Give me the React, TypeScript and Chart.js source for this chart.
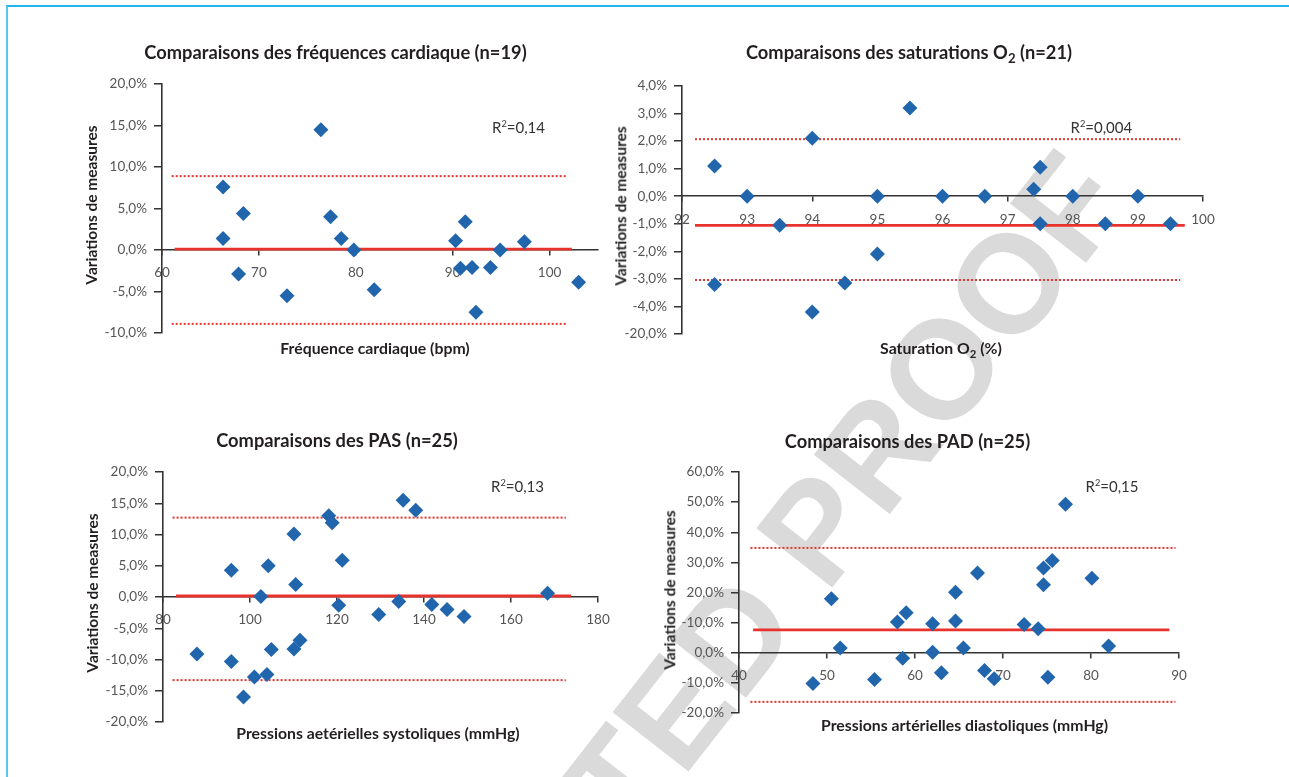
import React, { useEffect, useRef } from "react";
import { Chart, registerables } from "chart.js";

Chart.register(...registerables);

// ---------------- Data ----------------
// Fréquences cardiaques (n=19)
const hrX = [66.3, 66.3, 68.4, 67.9, 72.9, 76.4, 77.4, 78.5, 79.8, 81.9, 90.3, 90.8, 91.3, 92.0, 92.4, 93.9, 94.9, 97.4, 103.0];
const hrY = [7.6, 1.4, 4.4, -2.9, -5.5, 14.5, 4.0, 1.4, 0.0, -4.8, 1.1, -2.2, 3.4, -2.1, -7.5, -2.1, 0.0, 1.0, -3.9];
const hrMean = 0.1;
const hrUpper = 8.9;
const hrLower = -8.9;
const hrMeanX = [61.3, 102.3];
const hrLimitX = [61.0, 101.7];
const hrXTicks = [60, 70, 80, 90, 100];
const hrYTicks = [-10, -5, 0, 5, 10, 15, 20];
const hrYLabels = ["-10,0%", "-5,0%", "0,0%", "5,0%", "10,0%", "15,0%", "20,0%"];

// Saturations O2 (n=21)
const satX = [92.5, 92.5, 93.0, 93.5, 94.0, 94.0, 94.5, 95.0, 95.0, 95.5, 96.0, 96.65, 97.4, 97.5, 97.5, 98.0, 98.5, 99.0, 99.5];
const satY = [1.1, -3.2, 0.0, -1.05, 2.1, -4.2, -3.15, 0.0, -2.1, 3.2, 0.0, 0.0, 0.25, 1.05, -1.0, 0.0, -1.0, 0.0, -1.0];
const satMean = -1.06;
const satUpper = 2.07;
const satLower = -3.04;
const satMeanX = [92.2, 99.72];
const satLimitX = [92.2, 99.65];
const satXTicks = [92, 93, 94, 95, 96, 97, 98, 99, 100];
const satYTicks = [-5, -4, -3, -2, -1, 0, 1, 2, 3, 4];
const satYLabels = ["-20,0%", "-4,0%", "-3,0%", "-2,0%", "-1,0%", "0,0%", "1,0%", "2,0%", "3,0%", "4,0%"];

// PAS (n=25)
const pasX = [87.8, 95.7, 95.7, 98.5, 101.0, 102.5, 103.9, 104.2, 104.9, 110.1, 110.1, 110.5, 111.5, 118.1, 118.9, 120.4, 121.2, 129.6, 134.2, 135.2, 138.1, 141.8, 145.3, 149.2, 168.4];
const pasY = [-9.1, 4.3, -10.3, -16.0, -12.8, 0.1, -12.4, 5.0, -8.4, 10.1, -8.3, 2.0, -6.9, 13.0, 11.9, -1.3, 5.9, -2.8, -0.7, 15.5, 13.9, -1.2, -2.0, -3.1, 0.6];
const pasMean = 0.16;
const pasUpper = 12.7;
const pasLower = -13.3;
const pasMeanX = [83.0, 173.8];
const pasLimitX = [82.2, 172.6];
const pasXTicks = [80, 100, 120, 140, 160, 180];
const pasYTicks = [-20, -15, -10, -5, 0, 5, 10, 15, 20];
const pasYLabels = ["-20,0%", "-15,0%", "-10,0%", "-5,0%", "0,0%", "5,0%", "10,0%", "15,0%", "20,0%"];

// PAD (n=25)
const padX = [48.4, 50.5, 51.5, 55.4, 58.0, 58.6, 59.0, 62.0, 62.0, 63.0, 64.6, 64.6, 65.5, 67.1, 67.9, 69.0, 72.4, 74.0, 74.6, 74.6, 75.1, 75.6, 77.1, 80.1, 82.0];
const padY = [-10.2, 17.9, 1.6, -8.9, 10.2, -1.8, 13.3, 9.6, 0.2, -6.6, 20.1, 10.5, 1.6, 26.5, -5.9, -8.6, 9.4, 8.0, 28.1, 22.6, -8.1, 30.6, 49.3, 24.7, 2.2];
const padMean = 7.6;
const padUpper = 34.8;
const padLower = -16.3;
const padMeanX = [41.6, 88.9];
const padLimitX = [41.3, 89.6];
const padXTicks = [40, 50, 60, 70, 80, 90];
const padYTicks = [-20, -10, 0, 10, 20, 30, 40, 50, 60];
const padYLabels = ["-20,0%", "-10,0%", "0,0%", "-10,0%", "20,0%", "30,0%", "40,0%", "50,0%", "60,0%"];

// ---------------- Styles ----------------
const BLUE = "#2166ad";
const RED = "#e8322c";
const AXIS = "#333333";
const TICK_COLOR = "#555555";
const FONT = "Lato, 'Open Sans', sans-serif";
const YW = 75; // fixed y-axis width
const PAD_T = 24;
const PAD_B = 24;
const PAD_R = 26;

type Spec = {
  xs: number[];
  ys: number[];
  mean: number;
  upper: number;
  lower: number;
  meanX: number[];
  limitX: number[];
  xTicks: number[];
  yTicks: number[];
  yLabels: string[];
  xMin: number;
  xMax: number;
  yMin: number;
  yMax: number;
};

type Box = { L: number; R: number; T: number; B: number };

function Plot({ spec, box }: { spec: Spec; box: Box }) {
  const ref = useRef<HTMLCanvasElement>(null);
  const left = Math.round(box.L - YW);
  const top = Math.round(box.T - PAD_T);
  const width = Math.round(box.R - box.L + YW + PAD_R);
  const height = Math.round(box.B - box.T + PAD_T + PAD_B);

  useEffect(() => {
    const canvas = ref.current;
    if (!canvas) return;
    const pts = spec.xs.map((x, i) => ({ x, y: spec.ys[i] }));
    const seg = (xs: number[], v: number) => [
      { x: xs[0], y: v },
      { x: xs[1], y: v },
    ];
    const labelMap = new Map<number, string>();
    spec.yTicks.forEach((v, i) => labelMap.set(v, spec.yLabels[i]));

    const chart = new Chart(canvas, {
      type: "scatter",
      data: {
        datasets: [
          {
            data: pts,
            pointStyle: "rectRot",
            pointRadius: 7.5,
            pointBackgroundColor: BLUE,
            pointBorderColor: BLUE,
            pointBorderWidth: 0,
            showLine: false,
            order: 0,
          } as any,
          {
            data: seg(spec.meanX, spec.mean),
            showLine: true,
            borderColor: RED,
            borderWidth: 2.8,
            pointRadius: 0,
            order: 1,
          },
          {
            data: seg(spec.limitX, spec.upper),
            showLine: true,
            borderColor: RED,
            borderWidth: 2,
            borderDash: [2, 2],
            pointRadius: 0,
            order: 1,
          },
          {
            data: seg(spec.limitX, spec.lower),
            showLine: true,
            borderColor: RED,
            borderWidth: 2,
            borderDash: [2, 2],
            pointRadius: 0,
            order: 1,
          },
        ],
      },
      options: {
        animation: false,
        responsive: false,
        events: [],
        layout: { padding: { top: PAD_T, bottom: PAD_B, left: 0, right: PAD_R } },
        plugins: {
          legend: { display: false },
          tooltip: { enabled: false },
          title: { display: false },
        },
        scales: {
          x: {
            type: "linear",
            min: spec.xMin,
            max: spec.xMax,
            position: { y: 0 } as any,
            afterFit: (s: any) => {
              s.height = 0;
            },
            afterBuildTicks: (s: any) => {
              s.ticks = spec.xTicks.map((v) => ({ value: v }));
            },
            ticks: {
              color: TICK_COLOR,
              font: { family: FONT, size: 13.5 },
              padding: 10,
              maxRotation: 0,
              autoSkip: false,
              callback: (v: any) => String(v),
            },
            grid: {
              display: true,
              drawOnChartArea: false,
              drawTicks: true,
              tickLength: 5,
              color: AXIS,
              lineWidth: 1.5,
            },
            border: { display: true, color: AXIS, width: 1.6 },
          },
          y: {
            type: "linear",
            position: "left",
            min: spec.yMin,
            max: spec.yMax,
            afterFit: (s: any) => {
              s.width = YW;
            },
            afterBuildTicks: (s: any) => {
              s.ticks = spec.yTicks.map((v) => ({ value: v }));
            },
            ticks: {
              color: TICK_COLOR,
              font: { family: FONT, size: 13.5 },
              padding: 7,
              autoSkip: false,
              callback: (v: any) => labelMap.get(Number(v)) ?? "",
            },
            grid: {
              display: true,
              drawOnChartArea: false,
              drawTicks: true,
              tickLength: 8,
              color: AXIS,
              lineWidth: 1.5,
            },
            border: { display: true, color: AXIS, width: 1.6 },
          },
        },
      } as any,
    });
    return () => chart.destroy();
  }, []);

  return (
    <canvas
      ref={ref}
      width={width}
      height={height}
      style={{ position: "absolute", left, top, width, height }}
    />
  );
}

function Text({
  x,
  y,
  children,
  size = 15.8,
  bold = true,
  rotate = 0,
  align = "center",
  color = "#231f20",
}: {
  x: number;
  y: number;
  children: React.ReactNode;
  size?: number;
  bold?: boolean;
  rotate?: number;
  align?: "center" | "left";
  color?: string;
}) {
  const tx = align === "center" ? "-50%" : "0";
  return (
    <div
      style={{
        position: "absolute",
        left: x,
        top: y,
        transform: `translate(${tx}, -50%) rotate(${rotate}deg)`,
        fontFamily: FONT,
        fontSize: size,
        fontWeight: bold ? 700 : 400,
        color,
        whiteSpace: "nowrap",
        lineHeight: 1,
      }}
    >
      {children}
    </div>
  );
}

const sub: React.CSSProperties = { fontSize: "0.72em", verticalAlign: "-0.3em", lineHeight: 0 };
const sup: React.CSSProperties = { fontSize: "0.62em", verticalAlign: "0.55em", lineHeight: 0 };

export default function App() {
  const hrSpec: Spec = {
    xs: hrX, ys: hrY, mean: hrMean, upper: hrUpper, lower: hrLower,
    meanX: hrMeanX, limitX: hrLimitX, xTicks: hrXTicks, yTicks: hrYTicks, yLabels: hrYLabels,
    xMin: 60, xMax: 105, yMin: -10, yMax: 20,
  };
  const satSpec: Spec = {
    xs: satX, ys: satY, mean: satMean, upper: satUpper, lower: satLower,
    meanX: satMeanX, limitX: satLimitX, xTicks: satXTicks, yTicks: satYTicks, yLabels: satYLabels,
    xMin: 92, xMax: 100, yMin: -5, yMax: 4,
  };
  const pasSpec: Spec = {
    xs: pasX, ys: pasY, mean: pasMean, upper: pasUpper, lower: pasLower,
    meanX: pasMeanX, limitX: pasLimitX, xTicks: pasXTicks, yTicks: pasYTicks, yLabels: pasYLabels,
    xMin: 80, xMax: 180, yMin: -20, yMax: 20,
  };
  const padSpec: Spec = {
    xs: padX, ys: padY, mean: padMean, upper: padUpper, lower: padLower,
    meanX: padMeanX, limitX: padLimitX, xTicks: padXTicks, yTicks: padYTicks, yLabels: padYLabels,
    xMin: 40, xMax: 90, yMin: -20, yMax: 60,
  };

  return (
    <div style={{ position: "fixed", inset: 0, overflow: "hidden", background: "#ffffff" }}>
      {/* frame */}
      <div
        style={{
          position: "absolute",
          left: 6,
          top: 5,
          width: 3000,
          height: 3000,
          borderTop: "2px solid #1db8ec",
          borderLeft: "2px solid #5ac6f0",
        }}
      />
      {/* watermark */}
      <div
        style={{
          position: "absolute",
          left: 657,
          top: 734,
          transform: "translate(-50%, -50%) rotate(-52deg)",
          fontFamily: "'Liberation Sans', Arial, sans-serif",
          fontWeight: 700,
          fontSize: 140,
          color: "#dadada",
          whiteSpace: "nowrap",
          lineHeight: 1,
        }}
      >
        CORRECTED PROOF
      </div>

      <Plot spec={hrSpec} box={{ L: 162, R: 597.5, T: 84, B: 333 }} />
      <Plot spec={satSpec} box={{ L: 682, R: 1203, T: 86, B: 334 }} />
      <Plot spec={pasSpec} box={{ L: 163, R: 598, T: 472, B: 722 }} />
      <Plot spec={padSpec} box={{ L: 739, R: 1179, T: 472, B: 713 }} />

      {/* titles */}
      <Text x={335.5} y={52} size={18.3}>Comparaisons des fréquences cardiaque (n=19)</Text>
      <Text x={909} y={52} size={18.3}>
        Comparaisons des saturations O<span style={sub}>2</span> (n=21)
      </Text>
      <Text x={337} y={440} size={18.3}>Comparaisons des PAS (n=25)</Text>
      <Text x={907.5} y={440.5} size={18.3}>Comparaisons des PAD (n=25)</Text>

      {/* x-axis titles */}
      <Text x={375} y={348}>Fréquence cardiaque (bpm)</Text>
      <Text x={941} y={347.5}>
        Saturation O<span style={sub}>2</span> (%)
      </Text>
      <Text x={378} y={733}>Pressions aetérielles systoliques (mmHg)</Text>
      <Text x={964.5} y={725}>Pressions artérielles diastoliques (mmHg)</Text>

      {/* y-axis titles */}
      <Text x={92} y={205} rotate={-90} size={15.5}>Variations de measures</Text>
      <Text x={620.5} y={206} rotate={-90} size={15.5}>Variations de measures</Text>
      <Text x={93} y={592.5} rotate={-90} size={15.5}>Variations de measures</Text>
      <Text x={670} y={590} rotate={-90} size={15.5}>Variations de measures</Text>

      {/* R² annotations */}
      <Text x={492} y={127} size={15} bold={false} align="left" color="#333">
        R<span style={sup}>2</span>=0,14
      </Text>
      <Text x={1070.5} y={127} size={15} bold={false} align="left" color="#333">
        R<span style={sup}>2</span>=0,004
      </Text>
      <Text x={491} y={486} size={15} bold={false} align="left" color="#333">
        R<span style={sup}>2</span>=0,13
      </Text>
      <Text x={1085.5} y={486} size={15} bold={false} align="left" color="#333">
        R<span style={sup}>2</span>=0,15
      </Text>
    </div>
  );
}
